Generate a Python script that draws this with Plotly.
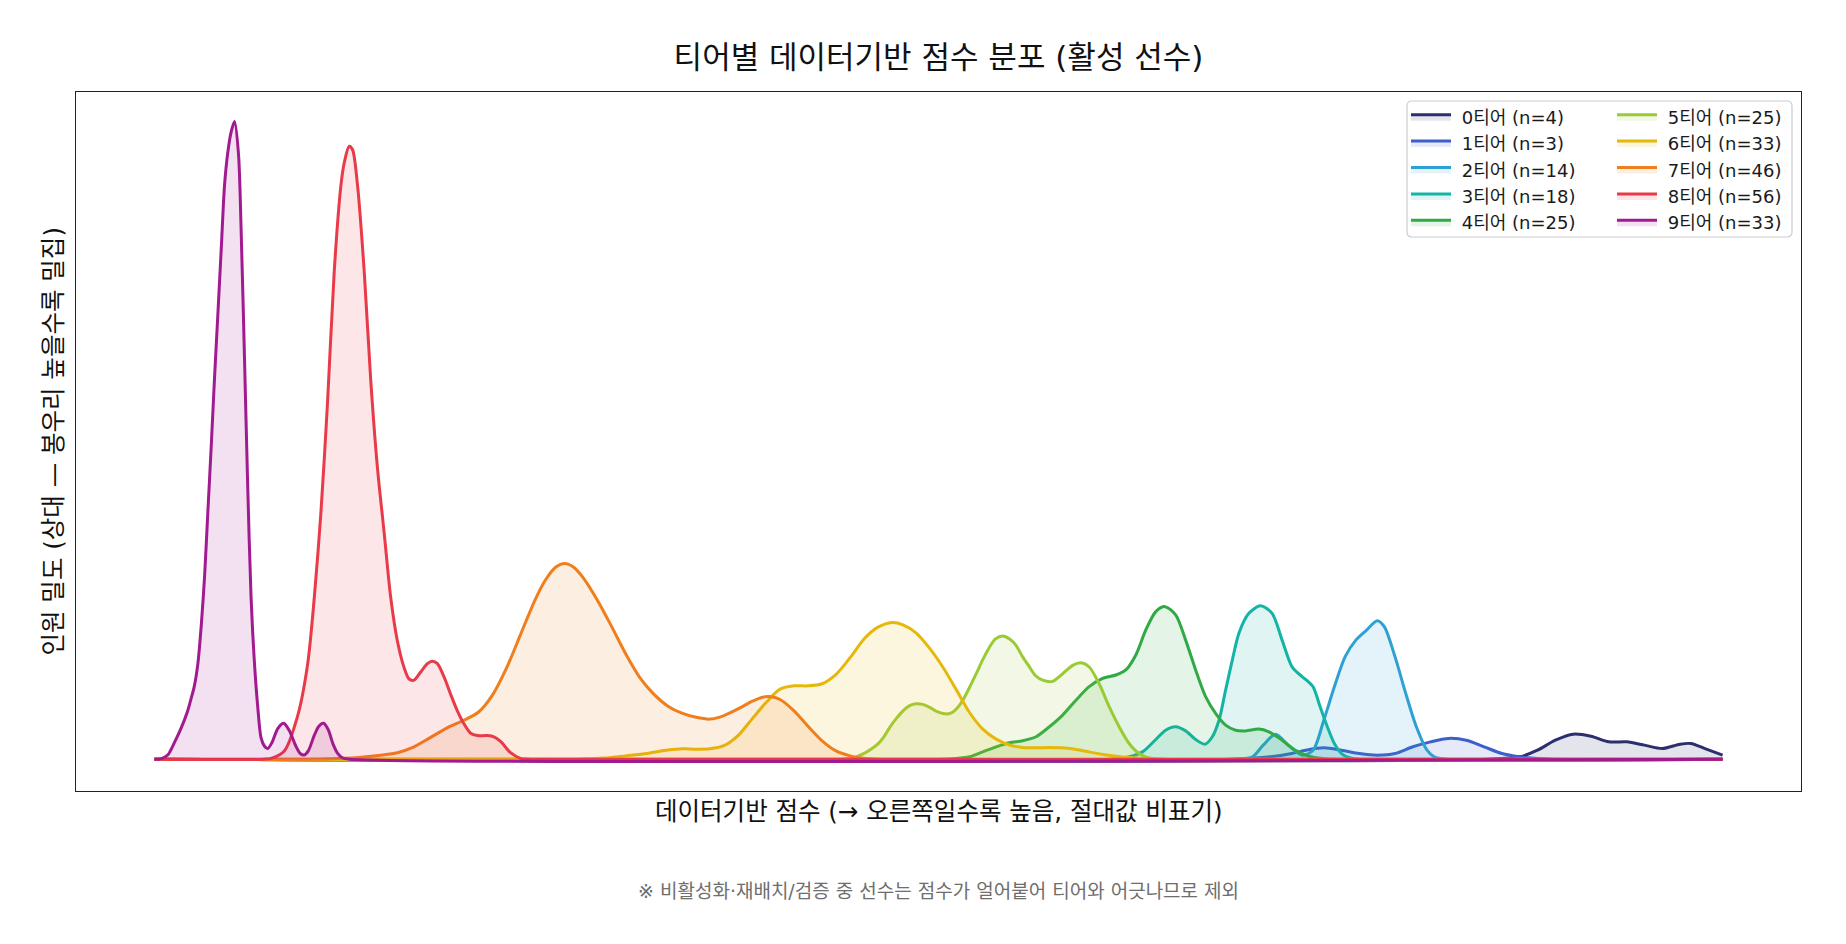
import plotly.graph_objects as go

# ---------------- data (score on a hidden scale, relative density) ----------------
tier_names = ["0티어", "1티어", "2티어", "3티어", "4티어", "5티어", "6티어", "7티어", "8티어", "9티어"]
tier_counts = [4, 3, 14, 18, 25, 25, 33, 46, 56, 33]
tier_colors = ["#2c2f6e", "#3c5fcb", "#2ea0d4", "#13b4a6", "#2faa45",
               "#9acb33", "#e6b80a", "#f07e1c", "#e83a48", "#a11a8f"]

t0_x = [130, 1265, 1292.3, 1307.4, 1322.6, 1337.8, 1352.9, 1368.1, 1383.3, 1398.5, 1413.6, 1428.8, 1437.9, 1450, 1465]
t0_y = [0, 0, 2, 7.6, 16.1, 21.2, 19.5, 14.7, 14.7, 11.9, 9, 12.7, 13.3, 9, 3.4]

t1_x = [130, 1045, 1080, 1098.2, 1110.3, 1125.5, 1140.6, 1155.8, 1171, 1186.1, 1201.3, 1216.4, 1231.6, 1246.8, 1262, 1277.1, 1292.3, 1307.4, 1320, 1465]
t1_y = [0, 0, 2, 4.8, 7.6, 9.6, 7.6, 4.8, 3.4, 4.8, 10.5, 14.7, 17.6, 16.1, 10.5, 4.8, 2, 0.5, 0, 0]

t2_x = [130, 1050, 1064.8, 1073.9, 1084.5, 1095.1, 1107.3, 1116.4, 1125.5, 1134.5, 1143.7, 1152.8, 1161.9, 1171, 1177, 1186.1, 1195.2, 1204.3, 1213.4, 1219.5, 1230, 1465]
t2_y = [0, 0, 2, 11.9, 21.2, 11.9, 3.4, 7.6, 33, 61.4, 87, 101, 109.5, 117.5, 112.4, 87, 56, 27.5, 7.6, 2, 0, 0]

t3_x = [130, 945, 959.8, 971.1, 982.5, 990.9, 999.4, 1007.9, 1016.4, 1024.4, 1030.6, 1036.3, 1041.9, 1047.6, 1053.2, 1061.7, 1071.6, 1081.5, 1090, 1098.5, 1107, 1112, 1116.4, 1122.4, 1128.5, 1134.5, 1140.6, 1146.7, 1155, 1465]
t3_y = [0, 0, 2, 6.2, 16.7, 24.6, 27.5, 24, 16.7, 12.7, 19, 33, 58.6, 84, 106.7, 123.7, 130.2, 123.7, 101, 78.3, 70, 66, 61.4, 44.5, 27.5, 13.3, 4.8, 1.5, 0, 0]

t4_x = [130, 795, 812.6, 823.9, 835.2, 846.6, 857.9, 869.2, 880.5, 891.9, 903.2, 914.5, 925.8, 937.2, 948.5, 957, 965.5, 974, 982.5, 990.4, 999.4, 1007.9, 1016.4, 1024.9, 1033.4, 1041.9, 1050.4, 1058.9, 1070.2, 1078.7, 1090, 1101.4, 1112.7, 1124, 1140, 1465]
t4_y = [0, 0, 0.6, 2, 6.2, 10.5, 13.9, 15.6, 19, 27.5, 37.4, 50, 61.5, 68.5, 71.4, 75.7, 88.4, 109.6, 125.2, 129.4, 122.4, 101, 75.7, 53, 38.8, 28.9, 24.6, 24, 25.5, 23.2, 16.1, 7.6, 2.5, 0.6, 0, 0]

t5_x = [130, 715, 725, 733.3, 740, 746, 751, 756, 762, 767.3, 773, 778.6, 784, 790, 796, 801.3, 806, 809.8, 814, 818.2, 824, 829.6, 835, 840.9, 846, 852.2, 858, 863.5, 869, 874.9, 880, 886.2, 894.7, 903.2, 911.7, 918.8, 925.8, 934.3, 942.8, 951.3, 959.8, 968.2, 976.7, 990, 1465]
t5_y = [0, 0, 1.2, 4.5, 8.5, 13, 19, 27, 35, 41, 45.5, 47, 46.5, 44, 40.5, 38.8, 38.5, 40, 44, 50, 61, 72.5, 84, 95, 102, 104.5, 102, 96.6, 87, 78.3, 71, 67, 66, 72.5, 79.6, 81.8, 78.2, 64, 44.5, 27.5, 13.3, 4.8, 1.1, 0, 0]

t6_x = [130, 490, 513.6, 531.4, 549.3, 567.2, 579.1, 591.1, 603, 614.9, 626.8, 638.7, 650.7, 662.6, 674.5, 686.4, 698.4, 710.3, 722.2, 734.1, 746, 758, 767.3, 778.6, 790, 801.3, 812.6, 823.9, 835.2, 846.6, 857.9, 869.2, 880.5, 891.9, 903.2, 914.5, 925.8, 937.2, 948.5, 959.8, 971.1, 985, 1465]
t6_y = [0, 0, 0.9, 2.8, 4.8, 7.7, 8.8, 8.5, 8.8, 11.4, 19.9, 34, 48, 59.4, 62.2, 62.2, 64, 72, 86, 102, 112, 116, 114, 107, 94, 78, 59, 39.6, 25.5, 17, 12, 9.9, 9.6, 9.9, 9.6, 8.2, 6.2, 4, 2.5, 1.4, 0.6, 0, 0]

t7_x = [130, 272, 291.6, 315, 336.9, 350, 365.2, 380, 393.5, 406, 418.2, 430.1, 442, 454, 462.9, 471.8, 479.3, 486.7, 495.7, 507.6, 519.5, 531.4, 543.4, 555.3, 567.2, 579.1, 591.1, 603, 614.9, 626.8, 638.7, 647.7, 655.1, 662.6, 674.5, 686.4, 698.4, 710.3, 722.2, 731.2, 745, 1465]
t7_y = [0, 0, 0.7, 2.5, 5.5, 10, 18.5, 27, 33, 40, 55, 78, 106.5, 135, 152, 163, 166, 163, 153, 134, 112, 89, 69, 55, 45, 39, 35.5, 34, 37, 42.6, 49, 52.6, 53, 50.6, 41, 28, 15.6, 7, 2.8, 1, 0, 0]

t8_x = [130, 223.7, 229.3, 240.6, 252, 260.5, 266.1, 271.8, 277.4, 283.1, 288.8, 291.6, 295.8, 298.7, 302.9, 308.6, 314.2, 319.9, 325.6, 331.2, 336.9, 342.6, 346.8, 351, 356.7, 362.4, 366.6, 370.9, 376.5, 382.2, 387.9, 393.5, 399.2, 404.9, 413.3, 419, 424.7, 433.2, 441.6, 450, 1465]
t8_y = [0, 0, 0.7, 7, 37, 81, 137, 210, 303, 414, 487, 506, 520, 517, 487, 414, 321, 247, 192, 137, 100, 77.5, 68, 67, 74, 81, 83, 81, 70, 55, 41, 30, 22, 20, 20, 19, 15, 5.5, 0.7, 0, 0]

t9_x = [130, 136, 141.5, 147, 153, 158, 161.4, 164, 167, 170, 172.7, 175.5, 178.4, 181, 184, 187, 189.7, 192.5, 195.3, 198.2, 201.6, 203.8, 206.7, 209.5, 212.3, 215.2, 218, 220.8, 223.7, 226.5, 230, 235, 240, 245, 250, 254, 257.5, 261, 266, 270, 274, 278, 282, 286, 290, 296, 1465]
t9_y = [0, 0.5, 3.7, 14, 27, 40, 52, 62, 81, 115, 155, 210, 266, 320, 377, 435, 487, 515, 532, 541, 513, 450, 340, 229, 137, 81, 44, 18, 11, 9, 14, 26, 30.5, 24, 12, 5, 3.5, 7, 20, 28, 30.5, 25, 13, 5, 1.2, 0, 0]

tier_x = [t0_x, t1_x, t2_x, t3_x, t4_x, t5_x, t6_x, t7_x, t8_x, t9_x]
tier_y = [t0_y, t1_y, t2_y, t3_y, t4_y, t5_y, t6_y, t7_y, t8_y, t9_y]

title_text = "티어별 데이터기반 점수 분포 (활성 선수)"
xlabel_text = "데이터기반 점수 (→ 오른쪽일수록 높음, 절대값 비표기)"
ylabel_text = "인원 밀도 (상대 — 봉우리 높을수록 밀집)"
note_text = "※ 비활성화·재배치/검증 중 선수는 점수가 얼어붙어 티어와 어긋나므로 제외"

# ---------------- figure ----------------
W, H = 1846, 944
ML, MR, MT, MB = 76, 45, 92, 153
PW, PH = W - ML - MR, H - MT - MB
FONT = "DejaVu Sans, Noto Sans CJK KR, sans-serif"


def px_x(p):
    return (p - ML) / PW


def px_y(p):
    return (H - MB - p) / PH


def rgba(hexc, a):
    h = hexc.lstrip("#")
    r, g, b = int(h[0:2], 16), int(h[2:4], 16), int(h[4:6], 16)
    return f"rgba({r},{g},{b},{a})"


fig = go.Figure()
for i in range(10):
    fig.add_trace(go.Scatter(
        x=tier_x[i], y=tier_y[i], mode="lines",
        name=f"\u00a0{tier_names[i]} (n={tier_counts[i]})",
        line=dict(color=tier_colors[i], width=3.0, shape="spline", smoothing=0.8),
        fill="tozeroy", fillcolor=rgba(tier_colors[i], 0.13),
        legend="legend" if i < 5 else "legend2",
        hoverinfo="skip",
    ))

axis_common = dict(showgrid=False, zeroline=False, showticklabels=False, ticks="",
                   showline=True, mirror=True, linecolor="#222222", linewidth=1.3)

# rounded legend frame
x0, x1 = px_x(1407), px_x(1792)
y0, y1 = px_y(101), px_y(237)
rx, ry = 5 / PW, 5 / PH
frame = (f"M{x0+rx},{y0} L{x1-rx},{y0} Q{x1},{y0} {x1},{y0-ry} L{x1},{y1+ry} Q{x1},{y1} {x1-rx},{y1} "
         f"L{x0+rx},{y1} Q{x0},{y1} {x0},{y1+ry} L{x0},{y0-ry} Q{x0},{y0} {x0+rx},{y0} Z")

legend_common = dict(bgcolor="rgba(0,0,0,0)", borderwidth=0, font=dict(family=FONT, size=18, color="#1a1a1a"),
                     xanchor="left", yanchor="top", itemwidth=40, tracegroupgap=0)

fig.update_layout(
    width=W, height=H, autosize=False,
    margin=dict(l=ML, r=MR, t=MT, b=MB),
    paper_bgcolor="white", plot_bgcolor="white",
    font=dict(family=FONT, color="#111"),
    title=dict(text=title_text, x=0.5, xref="paper", xanchor="center",
               y=1 - 57 / H, yref="container", yanchor="middle",
               font=dict(family=FONT, size=31, color="#111")),
    xaxis=dict(range=[63.25, 1531.75], **axis_common),
    yaxis=dict(range=[-27, 566], **axis_common),
    showlegend=True,
    legend=dict(x=px_x(1406), y=px_y(98.5), **legend_common),
    legend2=dict(x=px_x(1612), y=px_y(98.5), **legend_common),
    shapes=[dict(type="path", xref="paper", yref="paper", path=frame,
                 line=dict(color="#cccccc", width=1.2), fillcolor="rgba(255,255,255,0.8)", layer="above")],
    annotations=[
        dict(text=xlabel_text, xref="paper", yref="paper", x=0.5, y=px_y(811), xanchor="center",
             yanchor="middle", showarrow=False, font=dict(family=FONT, size=24.5, color="#111")),
        dict(text=ylabel_text, xref="paper", yref="paper", x=px_x(53), y=0.5, xanchor="center",
             yanchor="middle", showarrow=False, textangle=-90, font=dict(family=FONT, size=24.5, color="#111")),
        dict(text=note_text, xref="paper", yref="paper", x=0.5, y=px_y(891), xanchor="center",
             yanchor="middle", showarrow=False, font=dict(family=FONT, size=19, color="#6e6e6e")),
    ],
)

fig.write_html("out.html")
